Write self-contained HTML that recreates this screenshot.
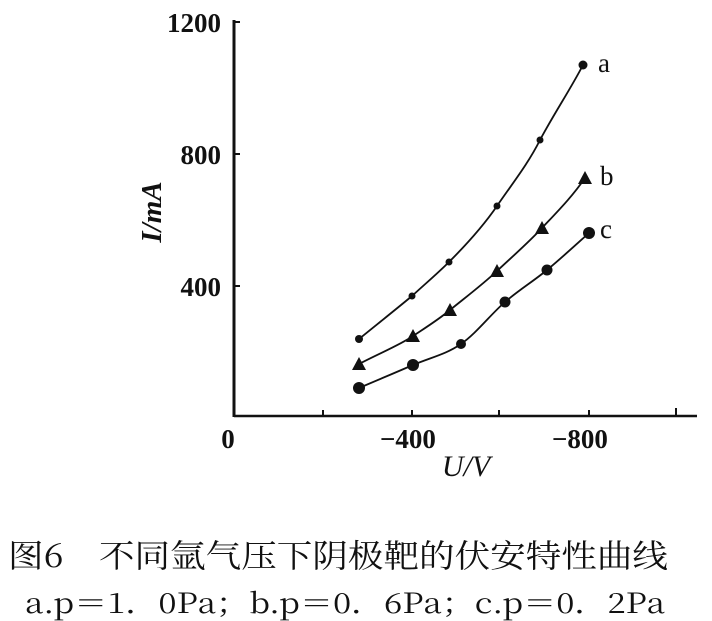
<!DOCTYPE html>
<html><head><meta charset="utf-8"><style>
html,body{margin:0;padding:0;background:#fff;}
svg{display:block;}
</style></head><body>
<svg width="712" height="621" viewBox="0 0 712 621" xmlns="http://www.w3.org/2000/svg">
<g stroke="#111" fill="none">
<line x1="234" y1="20" x2="234" y2="417" stroke-width="3"/>
<line x1="234" y1="416" x2="697" y2="416" stroke-width="2.5"/>
<line x1="234" y1="22" x2="240" y2="22" stroke-width="2"/>
<line x1="234" y1="154" x2="240" y2="154" stroke-width="2"/>
<line x1="234" y1="286" x2="240" y2="286" stroke-width="2"/>
<line x1="323" y1="410" x2="323" y2="416" stroke-width="2"/>
<line x1="412" y1="410" x2="412" y2="416" stroke-width="2"/>
<line x1="499" y1="410" x2="499" y2="416" stroke-width="2"/>
<line x1="589" y1="410" x2="589" y2="416" stroke-width="2"/>
<line x1="676" y1="408" x2="676" y2="416" stroke-width="2"/>
<path d="M359,339 C380,322 400,306 412,296 C425,284 437,274 449,262 C466,245 484,225 497,206 C512,184 528,164 540,140 C555,112 570,90 583,65" stroke-width="1.8"/>
<path d="M359,364 C380,353 400,345 413,336 C425,328 438,320 450,310 C466,297 482,285 497,271 C513,256 528,243 542,228 C557,212 572,197 585,178" stroke-width="1.8"/>
<path d="M359,388 C368,384.2 396,372.3 413,365 C430,357.7 445.7,354.5 461,344 C476.3,333.5 490.7,314.3 505,302 C519.3,289.7 533,281.5 547,270 C561,258.5 582,239.2 589,233" stroke-width="1.8"/>
</g>
<g fill="#111">
<circle cx="359" cy="339" r="4"/><circle cx="412" cy="296" r="3.5"/><circle cx="449" cy="262" r="3.5"/><circle cx="497" cy="206" r="3.5"/><circle cx="540" cy="140" r="3.5"/><circle cx="583" cy="65" r="4.5"/>
<g transform="translate(359,364)"><polygon points="0,-7 7,6 -7,6"/></g>
<g transform="translate(413,336)"><polygon points="0,-7 7,6 -7,6"/></g>
<g transform="translate(450,310)"><polygon points="0,-7 7,6 -7,6"/></g>
<g transform="translate(497,271)"><polygon points="0,-7 7,6 -7,6"/></g>
<g transform="translate(542,228)"><polygon points="0,-7 7,6 -7,6"/></g>
<g transform="translate(585,178)"><polygon points="0,-7 7,6 -7,6"/></g>
<circle cx="359" cy="388" r="6"/><circle cx="413" cy="365" r="6"/><circle cx="461" cy="344" r="5"/><circle cx="505" cy="302" r="5.5"/><circle cx="547" cy="270" r="5.5"/><circle cx="589" cy="233" r="6"/>
</g>
<g font-family="'Liberation Serif',serif" font-size="27" fill="#111" font-weight="bold">
<text x="221" y="32" text-anchor="end">1200</text>
<text x="221" y="164" text-anchor="end">800</text>
<text x="221" y="296" text-anchor="end">400</text>
<text x="228" y="448" text-anchor="middle">0</text>
<text x="408" y="448" text-anchor="middle">−400</text>
<text x="580" y="448" text-anchor="middle">−800</text>
<text x="466" y="476" text-anchor="middle" font-style="italic" font-weight="normal" font-size="30">U/V</text>
<text transform="translate(161,212) rotate(-90)" text-anchor="middle" font-style="italic" font-size="29">I/mA</text>
<text x="598" y="72" font-weight="normal">a</text>
<text x="600" y="185" font-weight="normal">b</text>
<text x="600" y="238" font-weight="normal">c</text>
</g>
<g font-family="'Noto Serif CJK SC','Liberation Serif',serif" fill="#111">
<text x="8" y="567" font-size="32" textLength="660" lengthAdjust="spacingAndGlyphs">图6　不同氩气压下阴极靶的伏安特性曲线</text>
<text x="25" y="613" font-size="28" textLength="640" lengthAdjust="spacingAndGlyphs">a.p＝1．0Pa；b.p＝0．6Pa；c.p＝0．2Pa</text>
</g>
</svg>
</body></html>
